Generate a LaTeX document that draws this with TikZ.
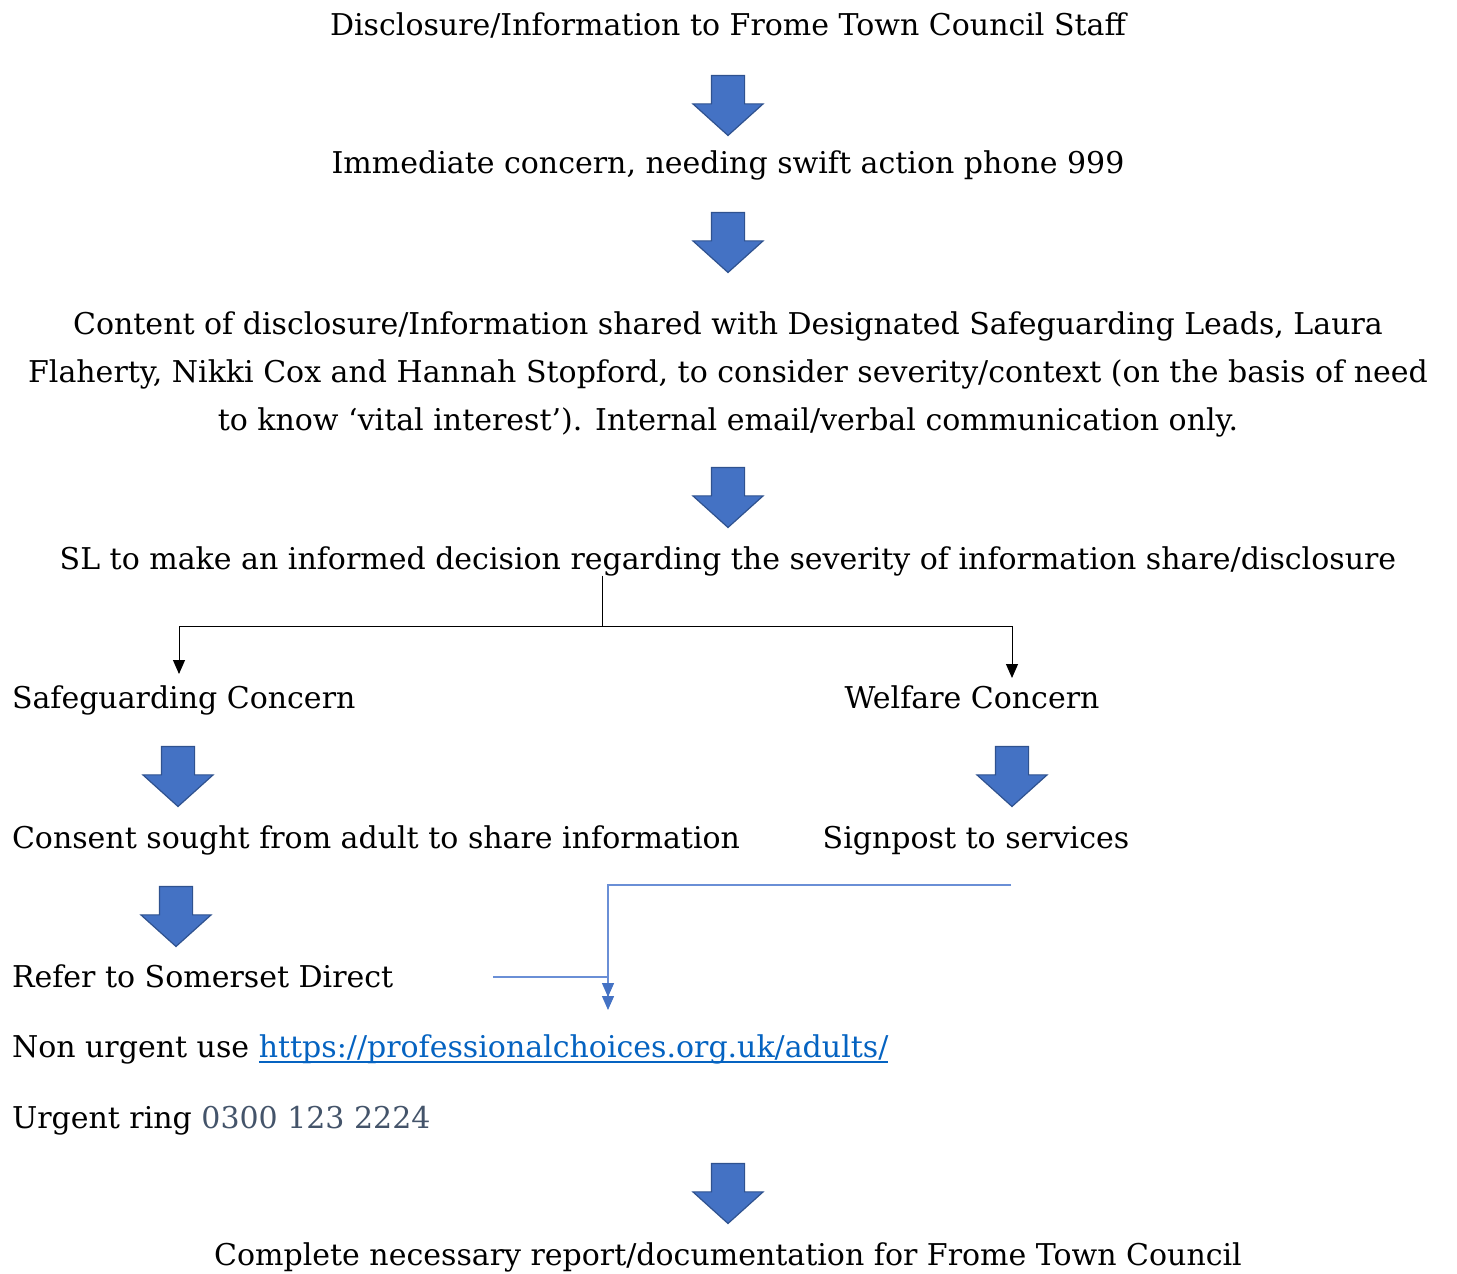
\documentclass[tikz,border=0pt]{standalone}
\usepackage{fontspec}
\setmainfont{DejaVu Serif}
\usepackage{tikz}
\usetikzlibrary{shapes.arrows}
\usetikzlibrary{arrows.meta}
\usetikzlibrary{calc}

\definecolor{arrowfill}{HTML}{4472C4}
\definecolor{arrowedge}{HTML}{2F528F}
\definecolor{linkblue}{HTML}{0563C1}
\definecolor{phonegray}{HTML}{44546A}
\definecolor{linkline}{HTML}{6A8FD6}

\tikzset{
    txt/.style={inner sep=0pt, outer sep=0pt},
    bigarrow/.style={single arrow, shape border rotate=270, draw=arrowedge, fill=arrowfill,
        line width=0.6pt, inner sep=8pt, minimum height=30pt,
        single arrow head extend=9.25pt, single arrow tip angle=96},
    tree/.style={draw=black, line width=0.5pt},
    treetip/.style={tree, -{Triangle[length=7pt, width=6pt]}},
    signline/.style={draw=linkline, line width=0.7pt, -{Triangle[length=7pt, width=6pt, color=arrowfill]}}
}

\begin{document}
\begin{tikzpicture}[x=0.5pt, y=-0.5pt, font=\fontsize{15}{24}\selectfont]
        \useasboundingbox (0,0) rectangle (1457,1274);

        \node[txt, anchor=base] (staff) at (728,35) {Disclosure/Information to Frome Town Council Staff};
        \node[bigarrow] (a1) at (728,98) {};
        \node[txt, anchor=base] (swift) at (728,173) {Immediate concern, needing swift action phone 999};
        \node[bigarrow] (a2) at (728,235) {};
        \node[txt, align=center] (leads) at (728,374) {Content of disclosure/Information shared with Designated Safeguarding Leads, Laura\\
            Flaherty, Nikki Cox and Hannah Stopford, to consider severity/context (on the basis of need\\
            to know ‘vital interest’). Internal email/verbal communication only.};
        \node[bigarrow] (a3) at (728,490) {};
        \node[txt, anchor=base] (decision) at (728,569) {SL to make an informed decision regarding the severity of information share/disclosure};

        \node[txt, anchor=base west] (safe) at (12,708) {Safeguarding Concern};
        \node[txt, anchor=base] (welfare) at (972,708) {Welfare Concern};
        \node[bigarrow] (a4) at (178,769) {};
        \node[bigarrow] (a5) at (1012,769) {};
        \node[txt, anchor=base west] (consent) at (12,848) {Consent sought from adult to share information};
        \node[txt, anchor=base] (signpost) at (976,848) {Signpost to services};
        \node[bigarrow] (a6) at (176,909) {};
        \node[txt, anchor=base west] (refer) at (12,987) {Refer to Somerset Direct};
        \node[txt, anchor=base west] (nonurgent) at (12,1057) {Non urgent use};
        \node[txt, anchor=base west, text=linkblue] (url) at ([xshift=4.8pt]nonurgent.base east) {https://professionalchoices.org.uk/adults/};
        \draw[linkblue, line width=0.6pt] ([yshift=-2.5pt]url.base west) -- ([yshift=-2.5pt]url.base east);
        \node[txt, anchor=base west] (urgent) at (12,1128) {Urgent ring \textcolor{phonegray}{0300 123 2224}};
        \node[bigarrow] (a7) at (728,1186) {};
        \node[txt, anchor=base] (report) at (728,1265) {Complete necessary report/documentation for Frome Town Council};

        \coordinate (split) at (602,626);
        \coordinate (sgtip) at (179,674);
        \coordinate (wftip) at (1012,678);
        \draw[tree] (decision.south -| split) -- (split);
        \draw[treetip] (split) -| (sgtip);
        \draw[treetip] (split) -| (wftip);

        \coordinate (spout) at (1011,885);
        \coordinate (refout) at (493,977);
        \coordinate (merge) at (608,1010);
        \coordinate (merge2) at (608,997);
        \draw[signline] (spout) -| (merge);
        \draw[signline] (refout) -| (merge2);
    \end{tikzpicture}
\end{document}
